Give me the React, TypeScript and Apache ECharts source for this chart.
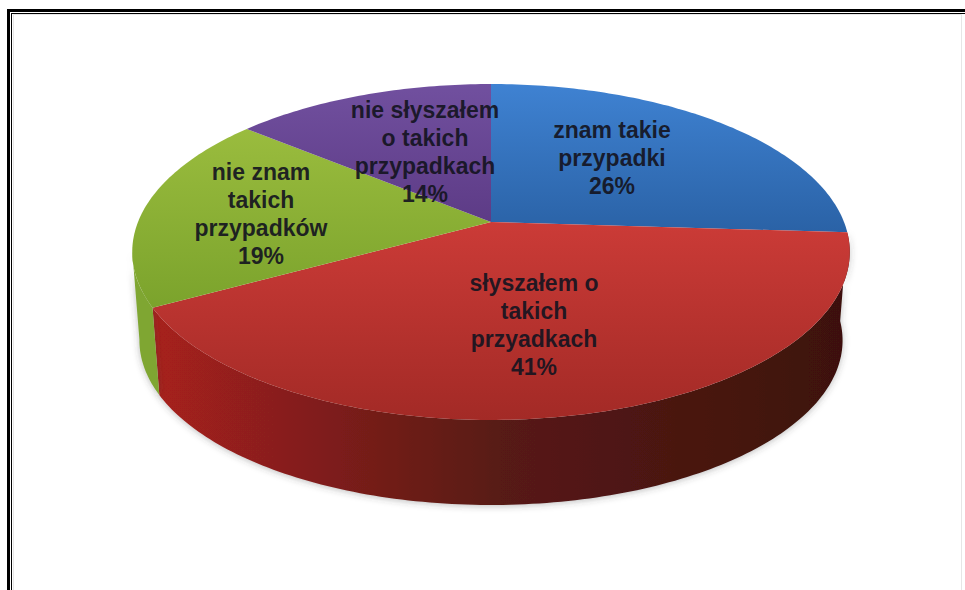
import React, { useEffect, useRef } from "react";
import * as echarts from "echarts";

const categories = ["znam takie\nprzypadki", "słyszałem o\ntakich\nprzyadkach", "nie znam\ntakich\nprzypadków", "nie słyszałem\no takich\nprzypadkach"];
const values = [26, 41, 19, 14];

const W = 965, H = 590;
const topStops = [
  [[0, "#3f82d2"], [1, "#2a62a6"]],
  [[0, "#cb3b37"], [1, "#a32a26"]],
  [[0, "#9abc3e"], [1, "#7ba32c"]],
  [[0, "#71509f"], [1, "#5d3b86"]],
];
const sideStops = [
  [[0, "#1f4d85"], [1, "#1f4d85"]],
  [[0, "#a8201f"], [0.18, "#8a1f1c"], [0.5, "#581a15"], [1, "#3d110d"]],
  [[0, "#7fa632"], [1, "#668c26"]],
  [[0, "#4c2f70"], [1, "#4c2f70"]],
];
const labelCentres = [[612, 158], [534, 325], [261, 214], [425, 152]];

const CX = 491, CY = 222, K = 0.1786, A = 353, B = 162.6;
const SCALE = 0.98, CY2 = 311, SIDE_FROM = 93.6, SIDE_TO = 260;
const total = values.reduce((a, b) => a + b, 0);

function topPoint(deg: number) {
  const r = (deg * Math.PI) / 180, X = Math.sin(r), Y = Math.cos(r), d = 1 + K * Y;
  return [CX + (A * X) / d, CY - (B * Y) / d];
}
function bottomPoint(deg: number) {
  const r = (deg * Math.PI) / 180, X = Math.sin(r), Y = Math.cos(r), d = 1 + K * Y;
  return [CX + (SCALE * A * X) / d, CY2 - (SCALE * B * Y) / d];
}
function arcPoints(fn: (d: number) => number[], from: number, to: number) {
  const pts: number[][] = [];
  const n = Math.max(2, Math.ceil(Math.abs(to - from)));
  for (let i = 0; i <= n; i++) pts.push(fn(from + ((to - from) * i) / n));
  return pts;
}
function range(i: number) {
  let s = 0;
  for (let j = 0; j < i; j++) s += values[j];
  return [(s / total) * 360, ((s + values[i]) / total) * 360];
}
const sliceData = values.map((v, i) => ({ value: v, name: categories[i] }));

const renderSide = (params: any) => {
  const i = params.dataIndex;
  const [a0, a1] = range(i);
  const from = Math.max(a0, SIDE_FROM), to = Math.min(a1, SIDE_TO);
  if (to <= from) return { type: "group", children: [] };
  const pts = [...arcPoints(topPoint, from, to), ...arcPoints(bottomPoint, to, from)];
  const fill = new echarts.graphic.LinearGradient(150, 0, 845, 0, sideStops[i].map(([offset, color]) => ({ offset, color })) as any, true);
  return {
    type: "polygon",
    shape: { points: pts },
    style: { fill, shadowBlur: 7, shadowColor: "rgba(60,60,60,0.35)", shadowOffsetY: 1 },
  };
};

const renderTop = (params: any) => {
  const i = params.dataIndex;
  const [a0, a1] = range(i);
  const pts = [[CX, CY], ...arcPoints(topPoint, a0, a1)];
  const fill = new echarts.graphic.LinearGradient(0, 0, 0, 1, topStops[i].map(([offset, color]) => ({ offset, color })) as any);
  return { type: "polygon", shape: { points: pts }, style: { fill } };
};

const renderLabel = (params: any) => {
  const i = params.dataIndex;
  const [x, y] = labelCentres[i];
  return {
    type: "text",
    style: {
      text: categories[i] + "\n" + values[i] + "%",
      x, y,
      align: "center",
      verticalAlign: "middle",
      font: 'bold 23px "Liberation Sans", Arial, sans-serif',
      lineHeight: 28,
      fill: "#141420",
      opacity: 0.92,
    },
  };
};

const frame = [
  { type: "rect", shape: { x: 13.5, y: 14.5, width: 948, height: 600 }, style: { fill: "none", stroke: "#e6e6e6", lineWidth: 1 } },
  { type: "line", shape: { x1: 8.5, y1: 10.5, x2: 8.5, y2: H }, style: { stroke: "#000", lineWidth: 3 } },
  { type: "line", shape: { x1: 7, y1: 10.5, x2: W, y2: 10.5 }, style: { stroke: "#000", lineWidth: 3 } },
  { type: "line", shape: { x1: 11.5, y1: 13.5, x2: 11.5, y2: H }, style: { stroke: "#000", lineWidth: 1 } },
  { type: "line", shape: { x1: 11, y1: 13.5, x2: W, y2: 13.5 }, style: { stroke: "#000", lineWidth: 1 } },
];

export default function App() {
  const ref = useRef<HTMLDivElement>(null);
  useEffect(() => {
    const chart = echarts.init(ref.current!, undefined, { renderer: "svg" });
    chart.setOption({
      animation: false,
      backgroundColor: "#ffffff",
      graphic: { elements: frame },
      series: [
        { type: "custom", coordinateSystem: "none", renderItem: renderSide, data: sliceData, silent: true, z: 2 },
        { type: "custom", coordinateSystem: "none", renderItem: renderTop, data: sliceData, silent: true, z: 3 },
        { type: "custom", coordinateSystem: "none", renderItem: renderLabel, data: sliceData, silent: true, z: 4 },
      ],
    });
    return () => chart.dispose();
  }, []);
  return <div ref={ref} style={{ position: "fixed", left: 0, top: 0, width: W, height: H }} />;
}
